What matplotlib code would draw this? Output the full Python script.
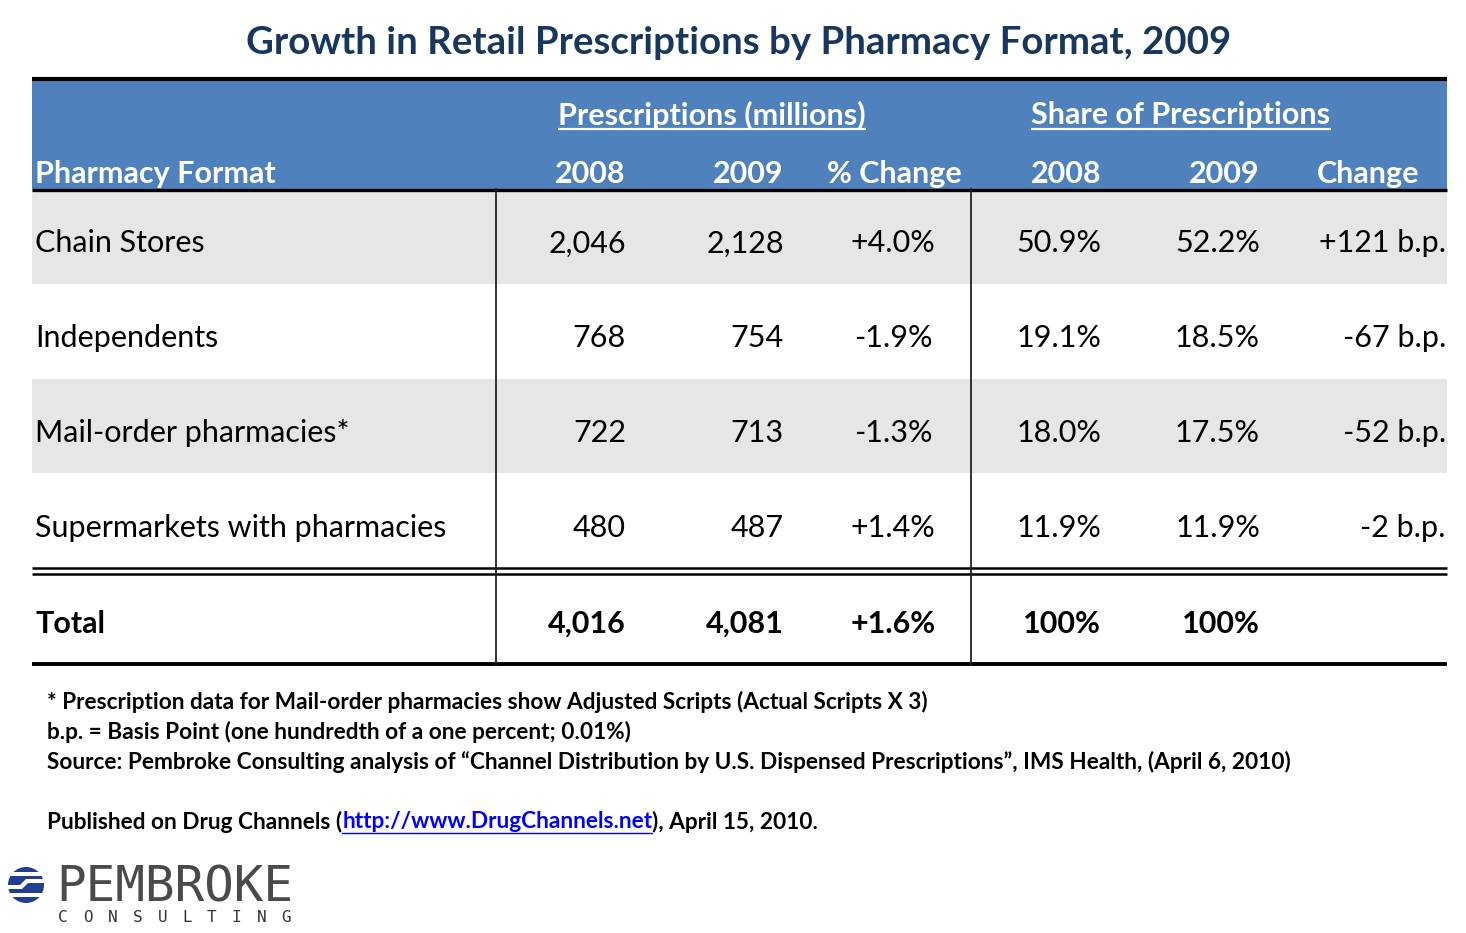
import matplotlib
matplotlib.use('Agg')
import matplotlib.pyplot as plt
from matplotlib.patches import Rectangle, Circle, Polygon

plt.rcParams['font.family'] = ['Lato', 'DejaVu Sans']

TITLE = 'Growth in Retail Prescriptions by Pharmacy Format, 2009'

formats = ['Chain Stores', 'Independents', 'Mail-order pharmacies*',
           'Supermarkets with pharmacies']
rx_2008 = [2046, 768, 722, 480]
rx_2009 = [2128, 754, 713, 487]
rx_pct_change = [4.0, -1.9, -1.3, 1.4]
share_2008 = [50.9, 19.1, 18.0, 11.9]
share_2009 = [52.2, 18.5, 17.5, 11.9]
share_bp_change = [121, -67, -52, -2]

total_2008 = 4016
total_2009 = 4081
total_pct_change = 1.6
total_share_2008 = 100
total_share_2009 = 100

notes = [
    '* Prescription data for Mail-order pharmacies show Adjusted Scripts (Actual Scripts X 3)',
    'b.p. = Basis Point (one hundredth of a one percent; 0.01%)',
    'Source: Pembroke Consulting analysis of \u201cChannel Distribution by U.S. Dispensed '
    'Prescriptions\u201d, IMS Health, (April 6, 2010)',
]
pub_pre = 'Published on Drug Channels ('
pub_link = 'http://www.DrugChannels.net'
pub_post = '), April 15, 2010.'

W, H = 1466, 933
fig = plt.figure(figsize=(W / 100, H / 100), dpi=100)
ax = fig.add_axes([0, 0, 1, 1])
ax.set_xlim(0, W)
ax.set_ylim(H, 0)
ax.axis('off')

BLUE = '#4F81BD'
NAVY = '#17375E'
GREY = '#E6E6E6'

left, right = 32, 1447
head_top, head_bot = 80, 189
row_h = 94.8
row_tops = [head_bot + i * row_h for i in range(len(formats))]

# title
ax.text(739, 43, TITLE, ha='center', va='center', fontsize=27.6,
        fontweight='bold', color=NAVY)

# header band
ax.add_patch(Rectangle((left, head_top), right - left, head_bot - head_top,
                       facecolor=BLUE, edgecolor='none'))
# striped rows
for i, top in enumerate(row_tops):
    if i % 2 == 0:
        ax.add_patch(Rectangle((left, top), right - left, row_h,
                               facecolor=GREY, edgecolor='none'))

# rules
ax.plot([left, right], [79, 79], color='black', lw=3.0, solid_capstyle='butt')
ax.plot([left, right], [189.5, 189.5], color='black', lw=2.4, solid_capstyle='butt')
ax.plot([left, right], [567.5, 567.5], color='black', lw=1.8, solid_capstyle='butt')
ax.plot([left, right], [573.5, 573.5], color='black', lw=1.8, solid_capstyle='butt')
ax.plot([left, right], [664, 664], color='black', lw=2.8, solid_capstyle='butt')
for xv in (496, 971):
    ax.plot([xv, xv], [189, 664], color='#222222', lw=1.3)

# column anchors
label_x = 35
col_x = [626, 784, 893, 1101, 1260, 1446]
col_ha = ['right', 'right', 'center', 'right', 'right', 'right']
head_x = [626, 784, 894, 1101, 1260, 1368]
head_ha = ['right', 'right', 'center', 'right', 'right', 'center']
head_labels = ['2008', '2009', '% Change', '2008', '2009', 'Change']

HFS = 22
BFS = 22
head_y = 174

ax.text(label_x, head_y, 'Pharmacy Format', ha='left', va='center',
        fontsize=HFS, fontweight='bold', color='white')
for x, ha, lab in zip(head_x, head_ha, head_labels):
    ax.text(x, head_y, lab, ha=ha, va='center', fontsize=HFS,
            fontweight='bold', color='white')

group_titles = [
    (712, 'Prescriptions (millions)'),
    (1181, 'Share of Prescriptions'),
]
group_txt = []
for x, lab in group_titles:
    t = ax.text(x, 115, lab, ha='center', va='center', fontsize=HFS,
                fontweight='bold', color='white')
    group_txt.append(t)

# body rows
for i, top in enumerate(row_tops):
    cy = top + row_h / 2 + 7
    vals = [f'{rx_2008[i]:,}', f'{rx_2009[i]:,}', f'{rx_pct_change[i]:+.1f}%',
            f'{share_2008[i]:.1f}%', f'{share_2009[i]:.1f}%',
            f'{share_bp_change[i]:+d} b.p.']
    ax.text(label_x, cy, formats[i], ha='left', va='center', fontsize=BFS,
            color='black')
    for x, ha, v in zip(col_x, col_ha, vals):
        ax.text(x, cy, v, ha=ha, va='center', fontsize=BFS, color='black')

# total row
cy = 624
tot_vals = [f'{total_2008:,}', f'{total_2009:,}', f'{total_pct_change:+.1f}%',
            f'{total_share_2008}%', f'{total_share_2009}%']
ax.text(label_x, cy, 'Total', ha='left', va='center', fontsize=BFS,
        fontweight='bold', color='black')
for x, ha, v in zip(col_x, col_ha, tot_vals):
    ax.text(x, cy, v, ha=ha, va='center', fontsize=BFS, fontweight='bold',
            color='black')

# footnotes
NFS = 16.25
for k, line in enumerate(notes):
    ax.text(47, 702 + 30 * k, line, ha='left', va='center', fontsize=NFS,
            fontweight='bold', color='black')
t_pre = ax.text(47, 822, pub_pre, ha='left', va='center', fontsize=NFS,
                fontweight='bold', color='black')

# logo
ax.add_patch(Circle((26, 885), 18, facecolor='#1F3F8F', edgecolor='none'))
ax.add_patch(Rectangle((6, 872), 40, 3.5, facecolor='white', edgecolor='none'))
ax.add_patch(Polygon([(6, 885), (20, 885), (26, 879), (46, 879),
                      (46, 883), (28, 883), (22, 889), (6, 889)],
                     closed=True, facecolor='white', edgecolor='none'))
ax.add_patch(Rectangle((6, 893), 40, 3.5, facecolor='white', edgecolor='none'))
ax.text(56, 887, 'PEMBROKE', ha='left', va='center', fontsize=35.5,
        family='DejaVu Sans Mono', color='#4A4A4A')
for k, ch in enumerate('CONSULTING'):
    ax.text(63 + k * 24.8, 917, ch, ha='center', va='center', fontsize=11.5,
            family='DejaVu Sans Mono', color='#333333')

# measure for underlines and the link
fig.canvas.draw()
r = fig.canvas.get_renderer()
inv = ax.transData.inverted()
for t in group_txt:
    bb = t.get_window_extent(r)
    (x0, _), (x1, _) = inv.transform([(bb.x0, bb.y0), (bb.x1, bb.y1)])
    ax.plot([x0, x1], [128.5, 128.5], color='white', lw=1.6, solid_capstyle='butt')

bb = t_pre.get_window_extent(r)
xend = inv.transform([(bb.x1, bb.y0)])[0][0]
t_link = ax.text(xend, 822, pub_link, ha='left', va='center', fontsize=NFS,
                 fontweight='bold', color='#0000FF')
fig.canvas.draw()
bb = t_link.get_window_extent(r)
(lx0, _), (lx1, _) = inv.transform([(bb.x0, bb.y0), (bb.x1, bb.y1)])
ax.plot([lx0, lx1], [833, 833], color='#0000FF', lw=1.0)
ax.text(lx1, 822, pub_post, ha='left', va='center', fontsize=NFS,
        fontweight='bold', color='black')

fig.savefig('out.png', dpi=100)
